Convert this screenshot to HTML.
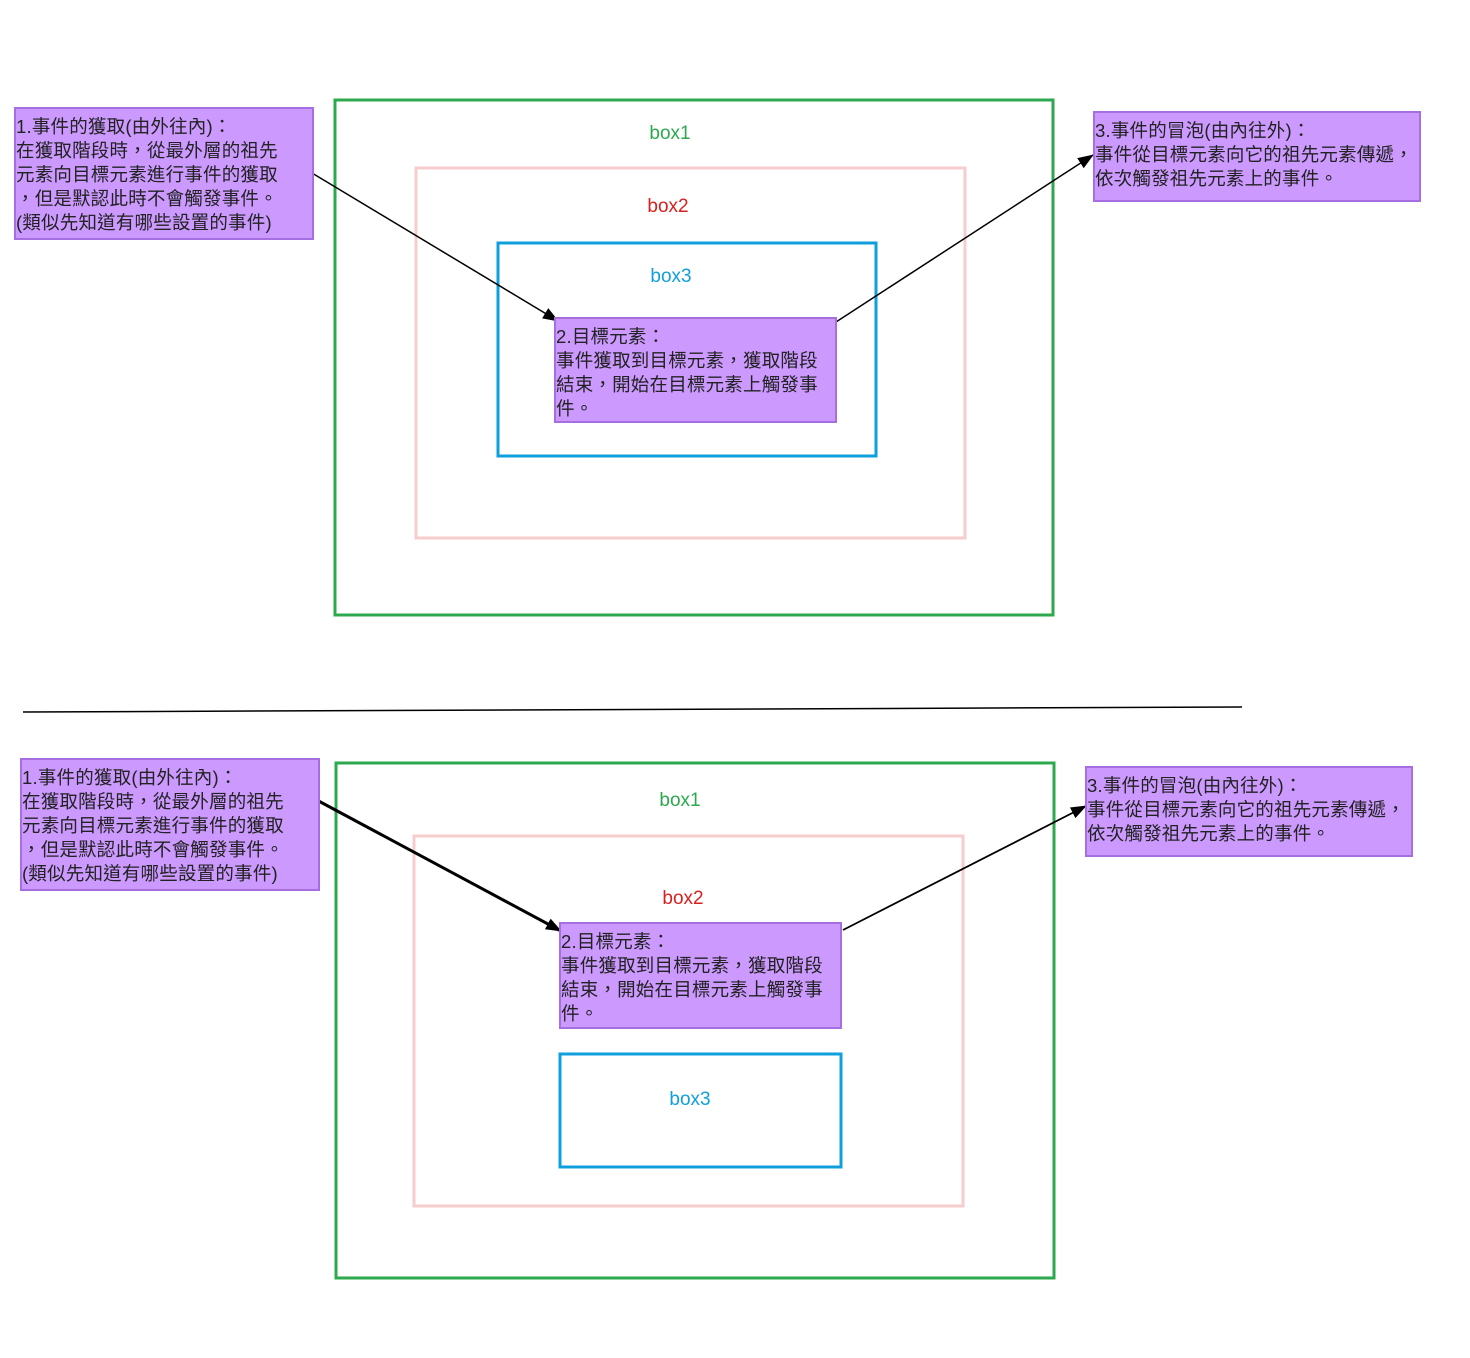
<!DOCTYPE html>
<html><head><meta charset="utf-8"><style>
body{margin:0;width:1470px;height:1358px;background:#fff;position:relative;overflow:hidden;font-family:"Liberation Sans","Noto Sans CJK TC",sans-serif}
.n{position:absolute;background:#cc99ff;border:2px solid #a66ee0;box-sizing:border-box;font-size:18.5px;line-height:24px;color:#222;padding:6px 0 0 0;white-space:nowrap;letter-spacing:0.2px}
.l{position:absolute;font-size:19px;transform:translateX(-50%);line-height:20px}
svg{position:absolute;left:0;top:0}
</style></head><body>
<svg width="1470" height="1358">
<defs>
<marker id="b" markerWidth="16" markerHeight="16" refX="15" refY="8" orient="auto" markerUnits="userSpaceOnUse" viewBox="0 0 16 16"><path d="M0,2 L16,8 L0,14z" fill="#000"/></marker></defs>
<g fill="none" stroke-width="3">
<rect x="335" y="100" width="718" height="515" stroke="#2ca84e"/>
<rect x="416" y="168" width="549" height="370" stroke="#f6cccc"/>
<rect x="498" y="243" width="378" height="213" stroke="#0f9fdc"/>
<rect x="336" y="763" width="718" height="515" stroke="#2ca84e"/>
<rect x="414" y="836" width="549" height="370" stroke="#f6cccc"/>
<rect x="560" y="1054" width="281" height="113" stroke="#0f9fdc"/>
</g>
<line x1="23" y1="712" x2="1242" y2="707" stroke="#000" stroke-width="1.5"/>
<line x1="307" y1="170" x2="558" y2="321" stroke="#000" stroke-width="1.5" marker-end="url(#b)"/>
<line x1="836" y1="322" x2="1093" y2="155" stroke="#000" stroke-width="1.5" marker-end="url(#b)"/>
<line x1="313" y1="798" x2="561" y2="931" stroke="#000" stroke-width="3" marker-end="url(#b)"/>
<line x1="843" y1="930" x2="1086" y2="806" stroke="#000" stroke-width="1.8" marker-end="url(#b)"/>
</svg>
<div class="l" style="left:670px;top:124px;color:#2ca84e">box1</div>
<div class="l" style="left:668px;top:197px;color:#d9201f">box2</div>
<div class="l" style="left:671px;top:267px;color:#0f9fdc">box3</div>
<div class="l" style="left:680px;top:791px;color:#2ca84e">box1</div>
<div class="l" style="left:683px;top:889px;color:#d9201f">box2</div>
<div class="l" style="left:690px;top:1090px;color:#0f9fdc">box3</div>
<div class="n" style="left:14px;top:107px;width:300px;height:133px">1.事件的獲取(由外往內)：<br>在獲取階段時，從最外層的祖先<br>元素向目標元素進行事件的獲取<br>，但是默認此時不會觸發事件。<br>(類似先知道有哪些設置的事件)</div>
<div class="n" style="left:554px;top:317px;width:283px;height:106px">2.目標元素：<br>事件獲取到目標元素，獲取階段<br>結束，開始在目標元素上觸發事<br>件。</div>
<div class="n" style="left:1093px;top:111px;width:328px;height:91px">3.事件的冒泡(由內往外)：<br>事件從目標元素向它的祖先元素傳遞，<br>依次觸發祖先元素上的事件。</div>
<div class="n" style="left:20px;top:758px;width:300px;height:133px">1.事件的獲取(由外往內)：<br>在獲取階段時，從最外層的祖先<br>元素向目標元素進行事件的獲取<br>，但是默認此時不會觸發事件。<br>(類似先知道有哪些設置的事件)</div>
<div class="n" style="left:559px;top:922px;width:283px;height:107px">2.目標元素：<br>事件獲取到目標元素，獲取階段<br>結束，開始在目標元素上觸發事<br>件。</div>
<div class="n" style="left:1085px;top:766px;width:328px;height:91px">3.事件的冒泡(由內往外)：<br>事件從目標元素向它的祖先元素傳遞，<br>依次觸發祖先元素上的事件。</div>
</body></html>
